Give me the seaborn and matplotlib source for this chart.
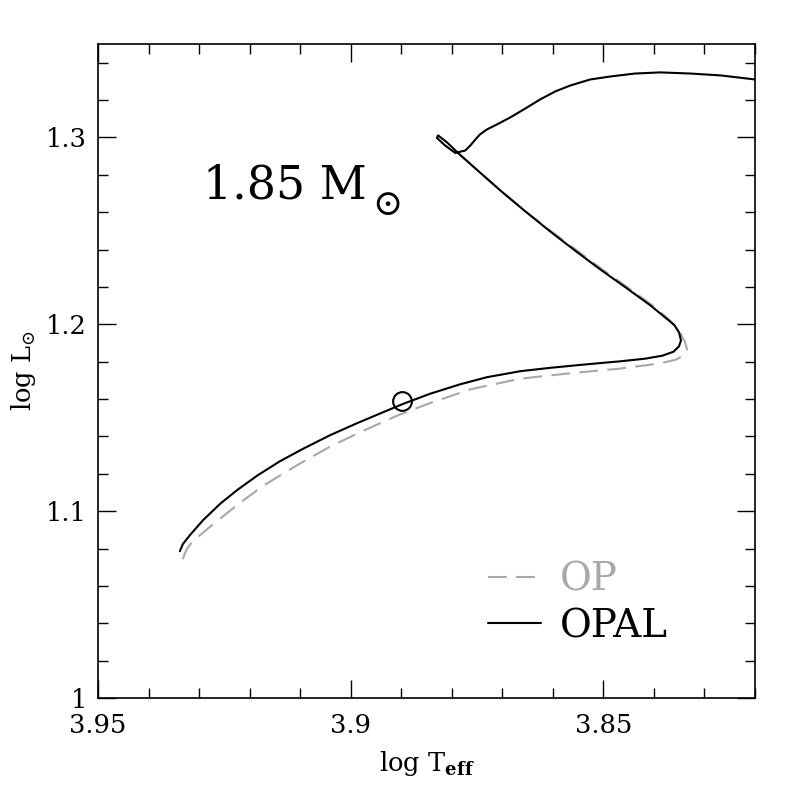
import numpy as np
import pandas as pd
import seaborn as sns
import matplotlib.pyplot as plt
from matplotlib.ticker import MultipleLocator, FormatStrFormatter

# evolutionary track of a 1.85 Msun star, OPAL vs OP opacities
opal_logteff = [3.9338, 3.9332, 3.9318, 3.9292, 3.9258, 3.9225, 3.9185, 3.9140,
                3.9094, 3.9041, 3.8987, 3.8936, 3.8898, 3.8843, 3.8783, 3.8730,
                3.8664, 3.8605, 3.8532, 3.8466, 3.8417, 3.8383, 3.8361, 3.8350,
                3.8346, 3.8350, 3.8359, 3.8373,
                3.8407, 3.8456, 3.8506, 3.8555, 3.8605, 3.8654, 3.8704, 3.8753,
                3.8783, 3.8809, 3.8827, 3.8829, 3.8813, 3.8793,
                3.8773, 3.8763, 3.8753, 3.8744, 3.8730, 3.8710, 3.8684, 3.8654,
                3.8625, 3.8595, 3.8565, 3.8526, 3.8486, 3.8437, 3.8387, 3.8328,
                3.8268, 3.8199]
opal_logl = [1.0786, 1.0824, 1.0872, 1.0952, 1.1040, 1.1112, 1.1190, 1.1267,
             1.1334, 1.1406, 1.1471, 1.1529, 1.1572, 1.1628, 1.1679, 1.1717,
             1.1749, 1.1767, 1.1786, 1.1802, 1.1816, 1.1832, 1.1853, 1.1882,
             1.1914, 1.1957, 1.1995, 1.2027,
             1.2102, 1.2198, 1.2294, 1.2393, 1.2497, 1.2604, 1.2717, 1.2834,
             1.2906, 1.2973, 1.3011, 1.2997, 1.2957, 1.2917,
             1.2930, 1.2957, 1.2989, 1.3016, 1.3043, 1.3070, 1.3107, 1.3155,
             1.3203, 1.3246, 1.3278, 1.3310, 1.3326, 1.3342, 1.3348, 1.3342,
             1.3332, 1.3310]

op_logteff = [3.9332, 3.9328, 3.9322, 3.9312, 3.9278, 3.9225, 3.9173, 3.9106,
              3.9041, 3.8975, 3.8908, 3.8843, 3.8763, 3.8664, 3.8565, 3.8466,
              3.8387, 3.8357, 3.8340, 3.8334, 3.8338, 3.8346, 3.8357, 3.8369,
              3.8403, 3.8452, 3.8502, 3.8551, 3.8603, 3.8654, 3.8704, 3.8753,
              3.8783]
op_logl = [1.0743, 1.0775, 1.0807, 1.0840, 1.0917, 1.1032, 1.1136, 1.1246,
           1.1345, 1.1430, 1.1511, 1.1578, 1.1652, 1.1709, 1.1738, 1.1763,
           1.1791, 1.1810, 1.1834, 1.1866, 1.1904, 1.1947, 1.1989, 1.2024,
           1.2102, 1.2198, 1.2294, 1.2393, 1.2497, 1.2604, 1.2717, 1.2834,
           1.2906]

# open circle on the track
mark_logteff = [3.8898]
mark_logl = [1.1588]

xticks = [3.95, 3.9, 3.85]
yticks = [1.0, 1.1, 1.2, 1.3]

df_opal = pd.DataFrame({'logTeff': opal_logteff, 'logL': opal_logl})
df_op = pd.DataFrame({'logTeff': op_logteff, 'logL': op_logl})

sns.set_style('ticks')
plt.rcParams['font.family'] = ['DejaVu Serif']
plt.rcParams['mathtext.fontset'] = 'dejavuserif'
for k in ['text.color', 'axes.labelcolor', 'xtick.color', 'ytick.color', 'axes.edgecolor']:
    plt.rcParams[k] = 'black'

fig = plt.figure(figsize=(7.97, 7.97), dpi=100)
ax = fig.add_axes([0.123, 0.1242, 0.824, 0.8206])

sns.lineplot(data=df_op, x='logTeff', y='logL', sort=False, estimator=None,
             color='#a8a8a8', linewidth=1.5, linestyle=(0, (9, 4.5)),
             label='OP', ax=ax)
sns.lineplot(data=df_opal, x='logTeff', y='logL', sort=False, estimator=None,
             color='black', linewidth=1.5, label='OPAL', ax=ax)
ax.plot(mark_logteff, mark_logl, 'o', ms=13.5, mfc='none', mec='black', mew=1.5)

ax.set_xlim(3.95, 3.82)
ax.set_ylim(1.0, 1.35)
ax.set_xticks(xticks)
ax.set_yticks(yticks)
ax.xaxis.set_major_formatter(FormatStrFormatter('%g'))
ax.yaxis.set_major_formatter(FormatStrFormatter('%g'))
ax.xaxis.set_minor_locator(MultipleLocator(0.01))
ax.yaxis.set_minor_locator(MultipleLocator(0.02))
ax.tick_params(which='both', direction='in', top=True, right=True, width=1, labelsize=18.5)
ax.tick_params(which='major', length=13)
ax.tick_params(which='minor', length=7)
ax.tick_params(axis='x', which='major', pad=11)
ax.tick_params(axis='y', which='major', pad=8)
for s in ax.spines.values():
    s.set_linewidth(1.2)

ax.set_xlabel(r'log T$_{\mathbf{eff}}$', fontsize=18.5, labelpad=8)
ax.set_ylabel(r'log L$_{\odot}$', fontsize=18.5, labelpad=6)

# mass label, sun symbol as a separate lowered glyph
mass_txt = ax.text(3.9292, 1.2674, '1.85 M', fontsize=33, ha='left', va='baseline')
ax.annotate(r'$\odot$', xy=(1, 0), xycoords=mass_txt, xytext=(4, -5),
            textcoords='offset points', fontsize=26, ha='left', va='baseline')

leg = ax.legend(loc='center left', bbox_to_anchor=(0.594, 0.145), frameon=False,
                fontsize=28, handlelength=1.35, handletextpad=0.5,
                labelspacing=0.25, borderpad=0, borderaxespad=0,
                labelcolor='linecolor')

fig.savefig('out.png', dpi=100)
